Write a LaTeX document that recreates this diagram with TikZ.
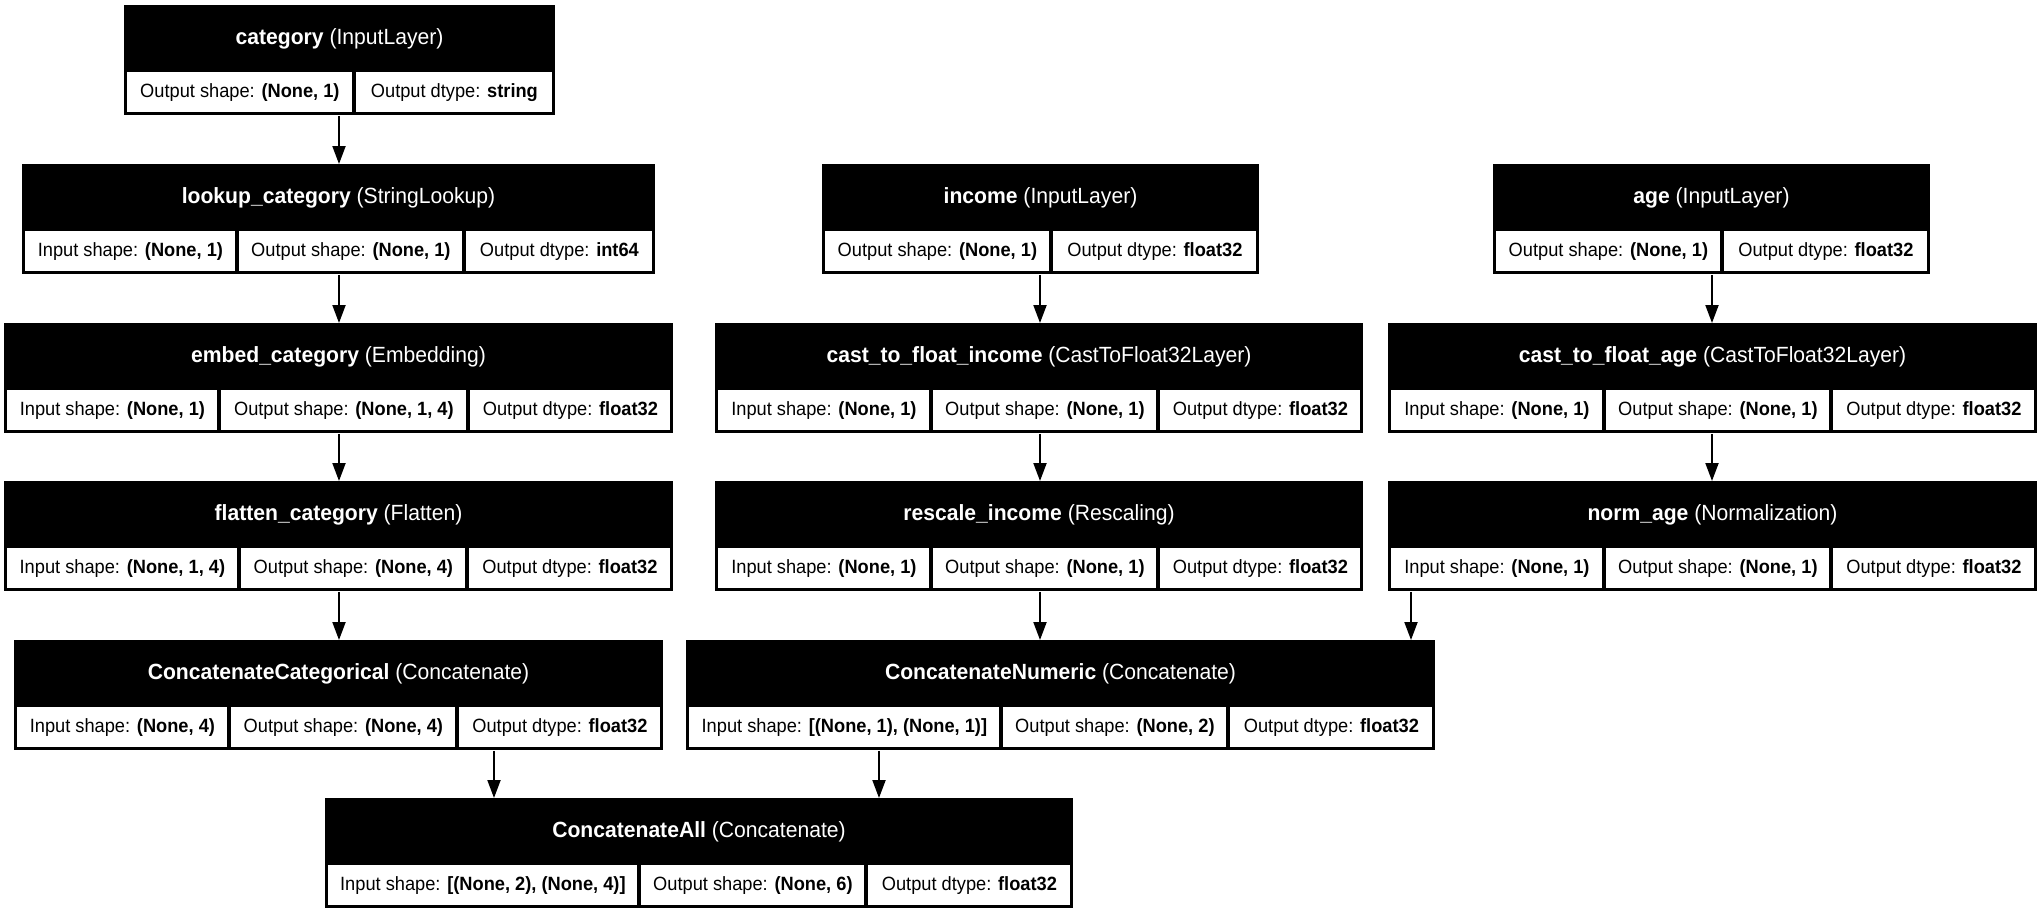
\documentclass[tikz,border=0pt]{standalone}
\usepackage{fontspec}
\setmainfont{Liberation Sans}
\newfontfamily\headfont{Liberation Sans}[FakeStretch=0.96]
\newfontfamily\cellfont{Liberation Sans}[FakeStretch=0.95]
\usetikzlibrary{arrows.meta}
\tikzset{
  boxbg/.style={anchor=north west, fill=black, draw=none, inner sep=0pt, minimum height=55pt},
  headtxt/.style={text=white, inner sep=0pt, font=\headfont\fontsize{11}{13}\selectfont},
  cellbox/.style={anchor=north west, fill=white, draw=none, inner sep=0pt, minimum height=20pt, font=\cellfont\fontsize{9.6}{11}\selectfont},
  arr/.style={line width=1pt, -{Triangle[length=9pt,width=6.5pt]}}
}
\newcommand\lbox[5]{%
  \node[boxbg, minimum width={(#3-#2)*0.5pt}] (#1) at (#2,#4) {};
  \node[headtxt] (#1-h) at ({(#2+#3)/2},#4+34) {#5};
}
\newcommand\lcell[5]{%
  \node[cellbox, minimum width={(#3-#2)*0.5pt}] (#1) at (#2,#4+67) {#5};
}
\begin{document}
\begin{tikzpicture}[x=0.5pt,y=-0.5pt]
\useasboundingbox[fill=white] (0,0) rectangle (2042,911);
% row 1
\lbox{cat}{124}{555}{5}{\textbf{category} (InputLayer)}
\lcell{cat-1}{127}{352}{5}{Output shape: \textbf{(None, 1)}}
\lcell{cat-2}{356}{552}{5}{Output dtype: \textbf{string}}
% row 2
\lbox{look}{22}{655}{164}{\textbf{lookup\_category} (StringLookup)}
\lcell{look-1}{25}{235}{164}{Input shape: \textbf{(None, 1)}}
\lcell{look-2}{239}{462}{164}{Output shape: \textbf{(None, 1)}}
\lcell{look-3}{466}{652}{164}{Output dtype: \textbf{int64}}
\lbox{inc}{822}{1259}{164}{\textbf{income} (InputLayer)}
\lcell{inc-1}{825}{1049}{164}{Output shape: \textbf{(None, 1)}}
\lcell{inc-2}{1053}{1256}{164}{Output dtype: \textbf{float32}}
\lbox{age}{1493}{1930}{164}{\textbf{age} (InputLayer)}
\lcell{age-1}{1496}{1720}{164}{Output shape: \textbf{(None, 1)}}
\lcell{age-2}{1724}{1927}{164}{Output dtype: \textbf{float32}}
% row 3
\lbox{emb}{4}{673}{323}{\textbf{embed\_category} (Embedding)}
\lcell{emb-1}{7}{217}{323}{Input shape: \textbf{(None, 1)}}
\lcell{emb-2}{221}{466}{323}{Output shape: \textbf{(None, 1, 4)}}
\lcell{emb-3}{470}{670}{323}{Output dtype: \textbf{float32}}
\lbox{cinc}{715}{1363}{323}{\textbf{cast\_to\_float\_income} (CastToFloat32Layer)}
\lcell{cinc-1}{718}{929}{323}{Input shape: \textbf{(None, 1)}}
\lcell{cinc-2}{933}{1156}{323}{Output shape: \textbf{(None, 1)}}
\lcell{cinc-3}{1160}{1360}{323}{Output dtype: \textbf{float32}}
\lbox{cage}{1388}{2037}{323}{\textbf{cast\_to\_float\_age} (CastToFloat32Layer)}
\lcell{cage-1}{1391}{1602}{323}{Input shape: \textbf{(None, 1)}}
\lcell{cage-2}{1606}{1829}{323}{Output shape: \textbf{(None, 1)}}
\lcell{cage-3}{1833}{2034}{323}{Output dtype: \textbf{float32}}
% row 4
\lbox{flat}{4}{673}{481}{\textbf{flatten\_category} (Flatten)}
\lcell{flat-1}{7}{237}{481}{Input shape: \textbf{(None, 1, 4)}}
\lcell{flat-2}{241}{465}{481}{Output shape: \textbf{(None, 4)}}
\lcell{flat-3}{469}{670}{481}{Output dtype: \textbf{float32}}
\lbox{resc}{715}{1363}{481}{\textbf{rescale\_income} (Rescaling)}
\lcell{resc-1}{718}{929}{481}{Input shape: \textbf{(None, 1)}}
\lcell{resc-2}{933}{1156}{481}{Output shape: \textbf{(None, 1)}}
\lcell{resc-3}{1160}{1360}{481}{Output dtype: \textbf{float32}}
\lbox{norm}{1388}{2037}{481}{\textbf{norm\_age} (Normalization)}
\lcell{norm-1}{1391}{1602}{481}{Input shape: \textbf{(None, 1)}}
\lcell{norm-2}{1606}{1829}{481}{Output shape: \textbf{(None, 1)}}
\lcell{norm-3}{1833}{2034}{481}{Output dtype: \textbf{float32}}
% row 5
\lbox{ccat}{14}{663}{640}{\textbf{ConcatenateCategorical} (Concatenate)}
\lcell{ccat-1}{17}{227}{640}{Input shape: \textbf{(None, 4)}}
\lcell{ccat-2}{231}{455}{640}{Output shape: \textbf{(None, 4)}}
\lcell{ccat-3}{459}{660}{640}{Output dtype: \textbf{float32}}
\lbox{cnum}{686}{1435}{640}{\textbf{ConcatenateNumeric} (Concatenate)}
\lcell{cnum-1}{689}{999}{640}{Input shape: \textbf{[(None, 1), (None, 1)]}}
\lcell{cnum-2}{1003}{1226}{640}{Output shape: \textbf{(None, 2)}}
\lcell{cnum-3}{1230}{1432}{640}{Output dtype: \textbf{float32}}
% row 6
\lbox{call}{325}{1073}{798}{\textbf{ConcatenateAll} (Concatenate)}
\lcell{call-1}{328}{637}{798}{Input shape: \textbf{[(None, 2), (None, 4)]}}
\lcell{call-2}{641}{864}{798}{Output shape: \textbf{(None, 6)}}
\lcell{call-3}{868}{1070}{798}{Output dtype: \textbf{float32}}
% connector columns
\coordinate (xa) at (339,0);
\coordinate (xb) at (1040,0);
\coordinate (xc) at (1712,0);
\coordinate (xd) at (1411,0);
\coordinate (xe) at (494,0);
\coordinate (xf) at (879,0);
\draw[arr] (cat.south -| xa) -- (look.north -| xa);
\draw[arr] (look.south -| xa) -- (emb.north -| xa);
\draw[arr] (emb.south -| xa) -- (flat.north -| xa);
\draw[arr] (flat.south -| xa) -- (ccat.north -| xa);
\draw[arr] (inc.south -| xb) -- (cinc.north -| xb);
\draw[arr] (cinc.south -| xb) -- (resc.north -| xb);
\draw[arr] (resc.south -| xb) -- (cnum.north -| xb);
\draw[arr] (age.south -| xc) -- (cage.north -| xc);
\draw[arr] (cage.south -| xc) -- (norm.north -| xc);
\draw[arr] (norm.south -| xd) -- (cnum.north -| xd);
\draw[arr] (ccat.south -| xe) -- (call.north -| xe);
\draw[arr] (cnum.south -| xf) -- (call.north -| xf);
\end{tikzpicture}
\end{document}
